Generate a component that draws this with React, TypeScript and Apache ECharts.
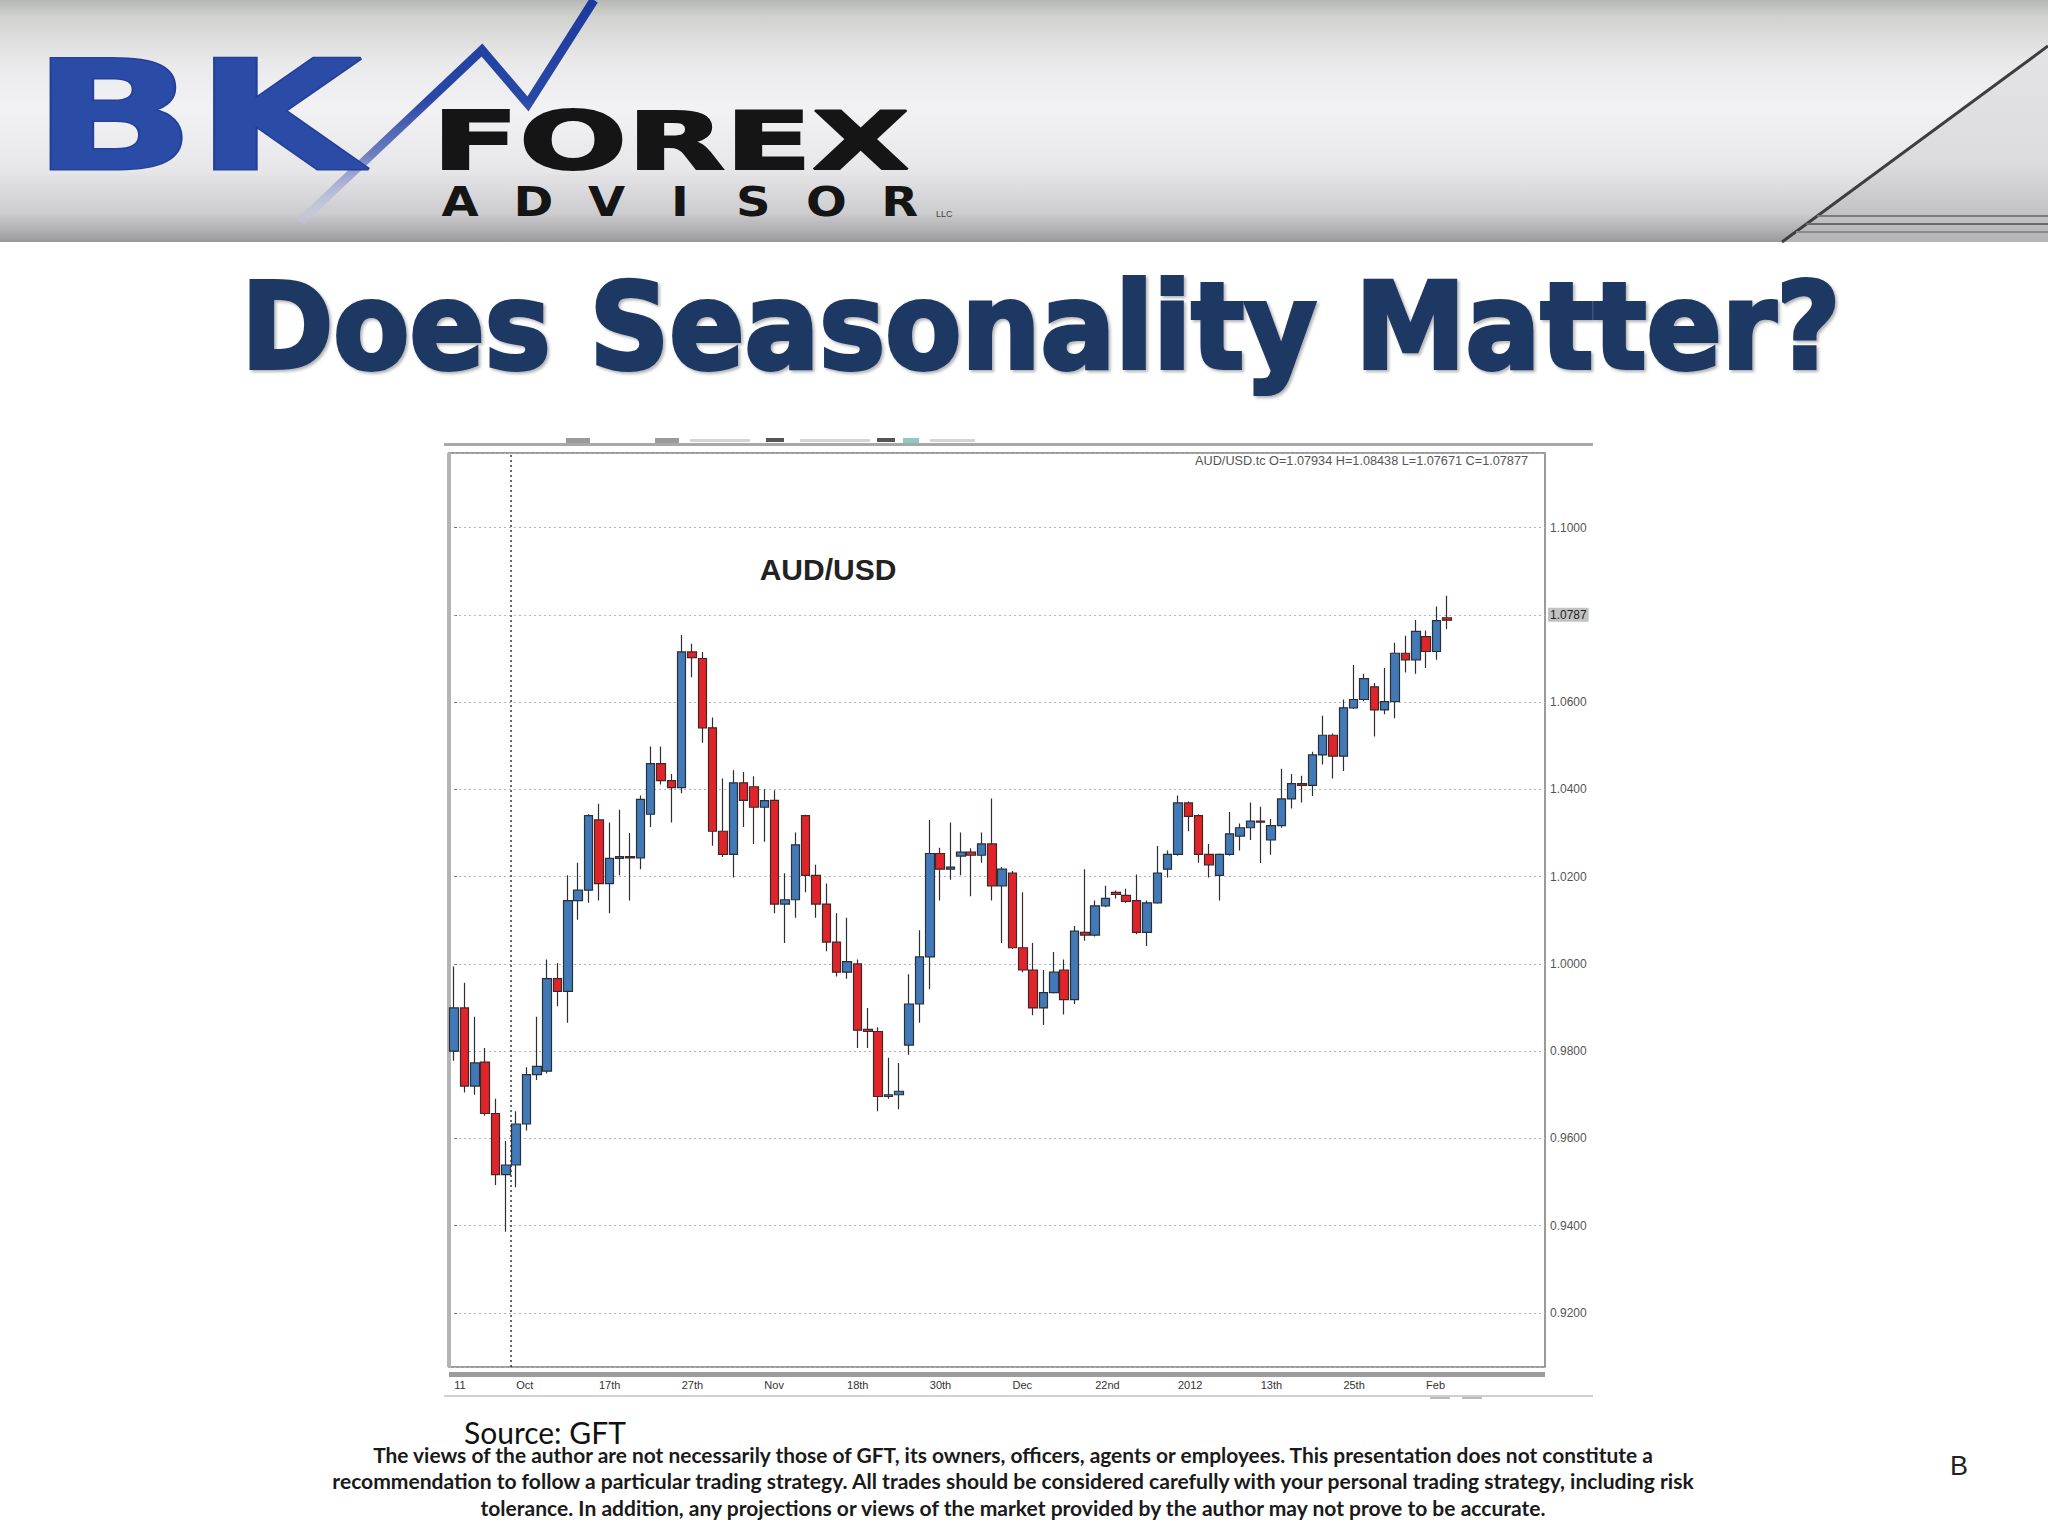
import React, { useEffect, useRef } from "react";
import * as echarts from "echarts";

// ---- data (AUD/USD daily candles) ----
const opens = [
  0.98, 0.9899, 0.972, 0.9775, 0.9657, 0.9517, 0.9539, 0.9633, 0.9746, 0.9754,
  0.9966, 0.9937, 1.0145, 1.0169, 1.033, 1.0184, 1.0242, 1.0246, 1.0243, 1.0343,
  1.0459, 1.042, 1.0404, 1.0715, 1.07, 1.0541, 1.0304, 1.0251, 1.0415, 1.0406,
  1.0359, 1.0375, 1.0137, 1.0147, 1.034, 1.0203, 1.0137, 1.005, 0.9981, 1.0,
  0.985, 0.9845, 0.9696, 0.97, 0.9814, 0.9908, 1.0016, 1.0253, 1.0217, 1.0247,
  1.0256, 1.0249, 1.0275, 1.0179, 1.0208, 1.0037, 0.9986, 0.9899, 0.9934, 0.9986,
  0.9918, 1.0072, 1.0066, 1.0133, 1.0164, 1.0157, 1.0145, 1.0072, 1.014, 1.0217,
  1.0251, 1.0369, 1.034, 1.0251, 1.0203, 1.0251, 1.0293, 1.0312, 1.0327, 1.0284,
  1.0317, 1.0378, 1.0413, 1.0409, 1.0479, 1.0524, 1.0476, 1.0587, 1.0606, 1.0635,
  1.0582, 1.0601, 1.0712, 1.0697, 1.075, 1.0716, 1.07934,
];
const closes = [
  0.9899, 0.972, 0.9773, 0.9657, 0.9517, 0.9539, 0.9633, 0.9746, 0.9765, 0.9966,
  0.9937, 1.0145, 1.0169, 1.034, 1.0184, 1.0242, 1.0246, 1.0243, 1.0377, 1.0459,
  1.042, 1.0404, 1.0715, 1.0702, 1.0541, 1.0304, 1.0251, 1.0415, 1.0375, 1.0359,
  1.0374, 1.0137, 1.0147, 1.0273, 1.0203, 1.0137, 1.005, 0.9981, 1.0005, 0.9848,
  0.9845, 0.9696, 0.97, 0.9708, 0.9908, 1.0016, 1.0253, 1.0217, 1.0222, 1.0256,
  1.0249, 1.0275, 1.0179, 1.0217, 1.0037, 0.9986, 0.9899, 0.9934, 0.9981, 0.9918,
  1.0075, 1.0066, 1.0133, 1.015, 1.0159, 1.0143, 1.0072, 1.014, 1.0208, 1.0251,
  1.0369, 1.0338, 1.0251, 1.0227, 1.0251, 1.0298, 1.0312, 1.0327, 1.0325, 1.0317,
  1.0378, 1.0413, 1.0409, 1.0479, 1.0524, 1.0476, 1.0587, 1.0606, 1.0654, 1.0582,
  1.0601, 1.0712, 1.0697, 1.0762, 1.0716, 1.0787, 1.07877,
];
const lows = [
  0.9778, 0.9705, 0.97, 0.9652, 0.9493, 0.9386, 0.9488, 0.9618, 0.9734, 0.9749,
  0.9903, 0.9865, 1.0101, 1.014, 1.0145, 1.0116, 1.0203, 1.0145, 1.0217, 1.0314,
  1.0411, 1.0324, 1.0391, 1.0657, 1.0507, 1.0271, 1.0245, 1.0198, 1.0314, 1.0275,
  1.028, 1.0116, 1.0048, 1.0106, 1.0164, 1.0106, 1.0029, 0.9971, 0.9966, 0.9807,
  0.9807, 0.9662, 0.9691, 0.9667, 0.9792, 0.9865, 0.9942, 1.0145, 1.0193, 1.0203,
  1.0155, 1.0232, 1.0145, 1.0048, 1.0034, 0.9981, 0.9882, 0.986, 0.9932, 0.9884,
  0.9908, 1.0053, 1.0063, 1.013, 1.015, 1.014, 1.0068, 1.0041, 1.0138, 1.0198,
  1.0248, 1.0304, 1.0232, 1.0198, 1.0145, 1.0248, 1.026, 1.0284, 1.0231, 1.025,
  1.0312, 1.0356, 1.037, 1.0385, 1.0457, 1.0425, 1.0442, 1.0584, 1.0602, 1.0521,
  1.0572, 1.0563, 1.0668, 1.0665, 1.0678, 1.0697, 1.07671,
];
const highs = [
  0.9994, 0.9957, 0.9879, 0.9807, 0.9691, 0.9594, 0.9662, 0.9763, 0.9879, 1.001,
  1.0002, 1.0203, 1.0232, 1.0343, 1.0367, 1.0324, 1.0353, 1.03, 1.0386, 1.0498,
  1.0498, 1.0435, 1.0754, 1.0734, 1.0715, 1.0565, 1.0425, 1.0444, 1.044, 1.043,
  1.0401, 1.0398, 1.0208, 1.0301, 1.0342, 1.0227, 1.0184, 1.0116, 1.0106, 1.001,
  0.9899, 0.9855, 0.9785, 0.9773, 0.9976, 1.0077, 1.033, 1.0266, 1.0324, 1.0301,
  1.0265, 1.0301, 1.0379, 1.0222, 1.0213, 1.0164, 1.0048, 0.9986, 1.0027, 1.001,
  1.0087, 1.0217, 1.0145, 1.0179, 1.0168, 1.0172, 1.0205, 1.0145, 1.027, 1.026,
  1.0386, 1.0372, 1.0343, 1.0275, 1.0253, 1.0348, 1.0322, 1.037, 1.036, 1.0332,
  1.0447, 1.0435, 1.0431, 1.0486, 1.0569, 1.0528, 1.0606, 1.0685, 1.0665, 1.0644,
  1.0678, 1.0736, 1.0752, 1.0788, 1.0764, 1.0819, 1.08438,
];
const xTickIndex = [0, 6, 14, 22, 30, 38, 46, 54, 62, 70, 78, 86, 94];
const xTickLabels = ["11", "Oct", "17th", "27th", "Nov", "18th", "30th", "Dec", "22nd", "2012", "13th", "25th", "Feb"];
const emptySlots = 9; // chart shift space on the right
const separatorIndex = 5.5; // period separator (dotted vertical line)
const yMin = 0.9076;
const yMax = 1.1171;
const yStep = 0.02;
const symbolName = "AUD/USD";
const symbolTicker = "AUD/USD.tc";
const disclaimer = [
  "The views of the author are not necessarily those of GFT, its owners, officers, agents or employees. This presentation does not constitute a",
  "recommendation to follow a particular trading strategy. All trades should be considered carefully with your personal trading strategy, including risk",
  "tolerance. In addition, any projections or views of the market provided by the author may not prove to be accurate.",
];

function measure(text: string, font: string): number {
  const c = document.createElement("canvas").getContext("2d");
  if (!c) return text.length * 10;
  c.font = font;
  return c.measureText(text).width || text.length * 10;
}
function fit(text: string, weight: string, size: number, family: string, target: number): number {
  return target / measure(text, `${weight} ${size}px ${family}`);
}

function txt(text: string, x: number, y: number, o: any, extra: any = {}) {
  const { align, verticalAlign, ...rest } = o;
  return {
    type: "text",
    x,
    y,
    silent: true,
    ...extra,
    style: {
      text,
      align: align || "left",
      verticalAlign: verticalAlign || "middle",
      ...rest,
    },
  };
}

export default function App() {
  const ref = useRef<HTMLDivElement>(null);

  useEffect(() => {
    if (!ref.current) return;
    const chart = echarts.init(ref.current, undefined, { renderer: "svg" });

    const n = opens.length;
    const total = n + emptySlots;
    const categories = Array.from({ length: total }, (_, i) => String(i));
    const labelMap = new Map<number, string>();
    xTickIndex.forEach((idx, k) => labelMap.set(idx, xTickLabels[k]));
    const candleData = opens.map((o, i) => [o, closes[i], lows[i], highs[i]]);
    const last = n - 1;
    const lastClose = closes[last];
    const info = `${symbolTicker} O=${opens[last].toFixed(5)} H=${highs[last].toFixed(5)} L=${lows[last].toFixed(5)} C=${closes[last].toFixed(5)}`;

    const DJ = '"DejaVu Sans"';
    const titleText = "Does Seasonality Matter?";
    const titleScale = fit(titleText, "bold", 119, DJ, 1600);
    const bkScale = fit("BK", "bold", 152, DJ, 330);
    const forexScale = fit("FOREX", "bold", 80, DJ, 478);
    const dScales = disclaimer.map((t, i) => fit(t, "bold", 21, "Lato", [1284, 1366, 1069][i]));
    const infoScale = fit(info, "normal", 12, '"Liberation Sans"', 333);

    const advisor = "ADVISOR".split("");

    const graphic: any[] = [
      // header band
      {
        type: "rect",
        silent: true,
        shape: { x: 0, y: 0, width: 2048, height: 242 },
        style: {
          fill: new echarts.graphic.LinearGradient(0, 0, 0, 1, [
            { offset: 0, color: "#b7b9b7" },
            { offset: 0.07, color: "#d1d2d0" },
            { offset: 0.25, color: "#e9e9ea" },
            { offset: 0.45, color: "#f2f1f4" },
            { offset: 0.7, color: "#e7e7e9" },
            { offset: 0.88, color: "#cdcdcf" },
            { offset: 0.97, color: "#a8a8aa" },
            { offset: 1, color: "#9a9a9c" },
          ]),
        },
      },
      {
        type: "polygon",
        silent: true,
        shape: { points: [[1782, 242], [2048, 46], [2048, 242]] },
        style: {
          fill: new echarts.graphic.LinearGradient(0, 0, 0, 1, [
            { offset: 0, color: "#e4e4e6" },
            { offset: 0.6, color: "#dcdcde" },
            { offset: 1, color: "#b4b4b6" },
          ]),
        },
      },
      { type: "line", silent: true, shape: { x1: 1782, y1: 242, x2: 2048, y2: 46 }, style: { stroke: "#3e3e3e", lineWidth: 3 } },
      { type: "line", silent: true, shape: { x1: 1817, y1: 216, x2: 2048, y2: 216 }, style: { stroke: "#7a7a7a", lineWidth: 2 } },
      { type: "line", silent: true, shape: { x1: 1806, y1: 224, x2: 2048, y2: 224 }, style: { stroke: "#6a6a6a", lineWidth: 2 } },
      { type: "line", silent: true, shape: { x1: 1796, y1: 232, x2: 2048, y2: 232 }, style: { stroke: "#8a8a8a", lineWidth: 2 } },
      // zigzag of the logo
      {
        type: "polyline",
        silent: true,
        shape: { points: [[300, 222], [482, 50], [528, 104], [594, 0]] },
        style: {
          fill: null,
          lineWidth: 9,
          lineJoin: "miter",
          stroke: new echarts.graphic.LinearGradient(0, 1, 0, 0, [
            { offset: 0, color: "rgba(200,200,230,0.3)" },
            { offset: 0.3, color: "#6f80c0" },
            { offset: 0.55, color: "#2a48a6" },
            { offset: 1, color: "#1c3a9c" },
          ]),
        },
      },
      txt("BK", 32, 116, { fontSize: 152, fontWeight: "bold", fontFamily: "DejaVu Sans", fill: "#2a4ca6", stroke: "#23419a", lineWidth: 3 }, { scaleX: bkScale }),
      txt("FOREX", 432, 141, { fontSize: 80, fontWeight: "bold", fontFamily: "DejaVu Sans", fill: "#151515", stroke: "#151515", lineWidth: 2 }, { scaleX: forexScale }),
      ...advisor.map((ch, i) =>
        txt(ch, 460 + i * 73.3, 202, { fontSize: 40, fontWeight: "bold", fontFamily: "DejaVu Sans", fill: "#151515", align: "center" }, { scaleX: 1.2 })
      ),
      txt("LLC", 936, 214, { fontSize: 9, fontFamily: "Liberation Sans", fill: "#444" }),
      // slide title
      txt(
        titleText,
        1041,
        327,
        {
          fontSize: 119,
          fontWeight: "bold",
          fontFamily: "DejaVu Sans",
          fill: "#1f3864",
          stroke: "#1f3864",
          lineWidth: 4,
          align: "center",
          textShadowColor: "rgba(0,0,0,0.3)",
          textShadowBlur: 3,
          textShadowOffsetX: 2,
          textShadowOffsetY: 2,
        },
        { scaleX: titleScale }
      ),
      // screenshot chrome of the chart
      { type: "rect", silent: true, shape: { x: 444, y: 443, width: 1149, height: 3 }, style: { fill: "#a8a8a8" } },
      { type: "rect", silent: true, shape: { x: 566, y: 438, width: 24, height: 5 }, style: { fill: "#9a9a9a" } },
      { type: "rect", silent: true, shape: { x: 655, y: 438, width: 24, height: 5 }, style: { fill: "#9a9a9a" } },
      { type: "rect", silent: true, shape: { x: 690, y: 439, width: 60, height: 3 }, style: { fill: "#d4d4d4" } },
      { type: "rect", silent: true, shape: { x: 766, y: 438, width: 18, height: 4 }, style: { fill: "#555" } },
      { type: "rect", silent: true, shape: { x: 800, y: 439, width: 70, height: 3 }, style: { fill: "#d4d4d4" } },
      { type: "rect", silent: true, shape: { x: 877, y: 438, width: 18, height: 4 }, style: { fill: "#555" } },
      { type: "rect", silent: true, shape: { x: 903, y: 438, width: 16, height: 5 }, style: { fill: "#8fc9c4" } },
      { type: "rect", silent: true, shape: { x: 930, y: 439, width: 45, height: 3 }, style: { fill: "#d4d4d4" } },
      { type: "rect", silent: true, shape: { x: 447, y: 453, width: 4, height: 914 }, style: { fill: "#b4b4b4" } },
      { type: "rect", silent: true, shape: { x: 449, y: 1372, width: 1096, height: 5 }, style: { fill: "#9c9c9c" } },
      { type: "line", silent: true, shape: { x1: 444, y1: 1396, x2: 1593, y2: 1396 }, style: { stroke: "#d0d0d0", lineWidth: 2 } },
      { type: "rect", silent: true, shape: { x: 1430, y: 1397, width: 20, height: 2 }, style: { fill: "#bbb" } },
      { type: "rect", silent: true, shape: { x: 1462, y: 1397, width: 20, height: 2 }, style: { fill: "#bbb" } },
      txt(info, 1528, 461, { fontSize: 12, fontFamily: "Liberation Sans", fill: "#555", align: "right" }, { scaleX: infoScale }),
      txt(symbolName, 828, 569, { fontSize: 30, fontWeight: "bold", fontFamily: "Liberation Sans", fill: "#222", align: "center" }),
      // footer
      txt("Source: GFT", 464, 1432, { fontSize: 30, fontFamily: "Lato", fill: "#111" }),
      ...disclaimer.map((line, i) =>
        txt(line, 1013, 1454 + i * 27, { fontSize: 21, fontWeight: "bold", fontFamily: "Lato", fill: "#1a1a1a", align: "center" }, { scaleX: dScales[i] })
      ),
      txt("B", 1959, 1466, { fontSize: 27, fontFamily: "Liberation Sans", fill: "#222", align: "center" }),
    ];

    const option: any = {
      animation: false,
      backgroundColor: "#ffffff",
      grid: {
        left: 449,
        top: 453,
        width: 1096,
        height: 914,
        show: true,
        borderColor: "#7a7a7a",
        borderWidth: 1.5,
        backgroundColor: "transparent",
        containLabel: false,
        outerBoundsMode: "none",
      },
      xAxis: [
        {
          type: "category",
          data: categories,
          boundaryGap: true,
          axisLine: { show: false },
          axisTick: { show: false },
          splitLine: { show: false },
          axisLabel: {
            interval: (index: number) => labelMap.has(index),
            formatter: (_v: string, index: number) => labelMap.get(index) ?? "",
            align: "left",
            margin: 12,
            fontSize: 11,
            color: "#333",
            fontFamily: '"Liberation Sans Narrow", "Liberation Sans", sans-serif',
          },
        },
        { type: "value", min: -0.5, max: total - 0.5, show: false },
      ],
      yAxis: {
        type: "value",
        position: "right",
        min: yMin,
        max: yMax,
        splitNumber: 10,
        minInterval: yStep,
        maxInterval: yStep,
        axisLine: { show: false },
        axisTick: { show: true, length: 3, lineStyle: { color: "#777" } },
        axisLabel: {
          margin: 5,
          fontSize: 12,
          color: "#555",
          fontFamily: '"Liberation Sans", sans-serif',
          showMinLabel: false,
          showMaxLabel: false,
          formatter: (v: number) => (Math.abs(v - lastClose) < yStep / 4 ? "" : v.toFixed(4)),
        },
        splitLine: { show: true, lineStyle: { color: "#b5b5b5", type: [2, 3], width: 1 } },
      },
      graphic,
      series: [
        {
          type: "candlestick",
          xAxisIndex: 0,
          yAxisIndex: 0,
          data: candleData,
          barWidth: 9,
          z: 5,
          itemStyle: {
            color: "#4279b7",
            color0: "#e0242a",
            borderColor: "#2b2f36",
            borderColor0: "#3a2a2a",
            borderWidth: 1.2,
          },
          markLine: {
            silent: true,
            symbol: ["none", "none"],
            lineStyle: { color: "rgba(190,190,190,0.35)", type: [2, 3], width: 1 },
            label: {
              show: true,
              position: "end",
              distance: 3,
              formatter: () => (Math.floor(lastClose * 10000) / 10000).toFixed(4),
              backgroundColor: "#c2c2c2",
              color: "#222",
              fontSize: 12,
              fontFamily: '"Liberation Sans", sans-serif',
              padding: [1, 2],
            },
            data: [{ yAxis: lastClose }],
          },
        },
        {
          type: "line",
          xAxisIndex: 1,
          yAxisIndex: 0,
          data: [
            [separatorIndex, yMin],
            [separatorIndex, yMax],
          ],
          symbol: "none",
          silent: true,
          z: 3,
          lineStyle: { color: "#3a3a3a", width: 1.5, type: [2, 3] },
        },
      ],
    };

    chart.setOption(option);
    return () => chart.dispose();
  }, []);

  return (
    <div
      ref={ref}
      style={{ position: "fixed", left: 0, top: 0, width: 2048, height: 1536, background: "#fff" }}
    />
  );
}
